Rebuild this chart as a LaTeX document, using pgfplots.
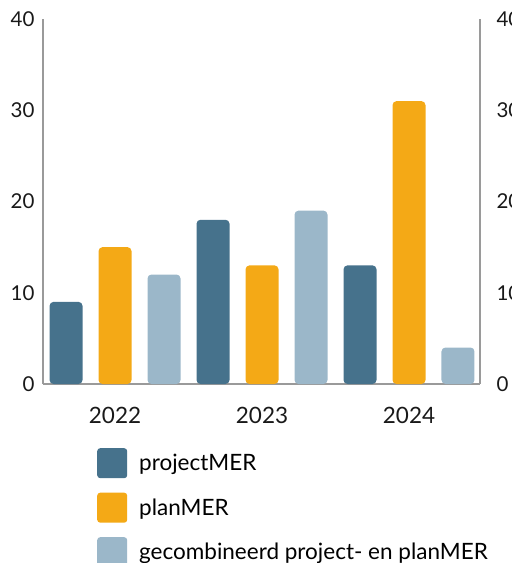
\documentclass[border=0pt]{standalone}
\usepackage{pgfplots}
\usepackage{pgfplotstable}
\pgfplotsset{compat=1.18}
\usepackage{fontspec}
\setmainfont{Lato}

\definecolor{projblue}{HTML}{46728C}
\definecolor{planorange}{HTML}{F4A916}
\definecolor{combiblue}{HTML}{9BB7C9}
\definecolor{axisgray}{HTML}{9A9A9A}

% aantal per jaar
\pgfplotstableread{
x project plan combi
0 9  15 12
1 18 13 19
2 13 31 4
}\mertable

\newcommand{\lbl}{\fontsize{20.5}{24}\selectfont}
\newcommand{\lblx}{\fontsize{22.5}{26}\selectfont}

\begin{document}
\begin{tikzpicture}
\begin{axis}[
    scale only axis, width=437pt, height=365pt,
    xmin=-0.49, xmax=2.483, ymin=0, ymax=40,
    ybar, bar width=0.2245,
    axis x line*=bottom, axis y line*=left,
    axis line style={axisgray, line width=1.3pt, -},
    xtick={0,1,2}, xticklabels={2022,2023,2024},
    ytick={0,10,20,30,40},
    major tick length=0pt,
    ticklabel style={font=\lbl, text=black!90},
    /pgf/number format/assume math mode=true,
    xticklabel style={font=\lblx, yshift=-20pt},
    yticklabel style={xshift=-5pt},
    legend style={at={(0.1236,-0.1753)}, anchor=north west, draw=none,
        inner sep=0pt, font=\lblx, row sep=14.5pt, column sep=12pt,
        nodes={inner sep=0pt, anchor=west}},
    legend cell align=left,
]
\addplot[fill=projblue, draw=none, rounded corners=4pt, bar shift=-0.3333,
    legend image code/.code={\fill[projblue, rounded corners=3pt] (0pt,-15pt) rectangle (30pt,15pt);}]
    table[x=x, y=project] {\mertable};
\addplot[fill=planorange, draw=none, rounded corners=4pt, bar shift=0,
    legend image code/.code={\fill[planorange, rounded corners=3pt] (0pt,-15pt) rectangle (30pt,15pt);}]
    table[x=x, y=plan] {\mertable};
\addplot[fill=combiblue, draw=none, rounded corners=4pt, bar shift=0.3333,
    legend image code/.code={\fill[combiblue, rounded corners=3pt] (0pt,-15pt) rectangle (30pt,15pt);}]
    table[x=x, y=combi] {\mertable};
\legend{projectMER, planMER, gecombineerd project- en planMER}
\end{axis}
\begin{axis}[
    scale only axis, width=437pt, height=365pt,
    xmin=-0.49, xmax=2.483, ymin=0, ymax=40,
    axis y line*=right, axis x line=none,
    axis line style={axisgray, line width=1.3pt, -},
    ytick={0,10,20,30,40}, xtick=\empty,
    major tick length=0pt,
    ticklabel style={font=\lbl, text=black!90},
    /pgf/number format/assume math mode=true,
    yticklabel style={xshift=13pt},
]
\end{axis}
\pgfresetboundingbox
\path[use as bounding box] (-43pt,-179pt) rectangle (469pt,384pt);
\end{tikzpicture}
\end{document}
